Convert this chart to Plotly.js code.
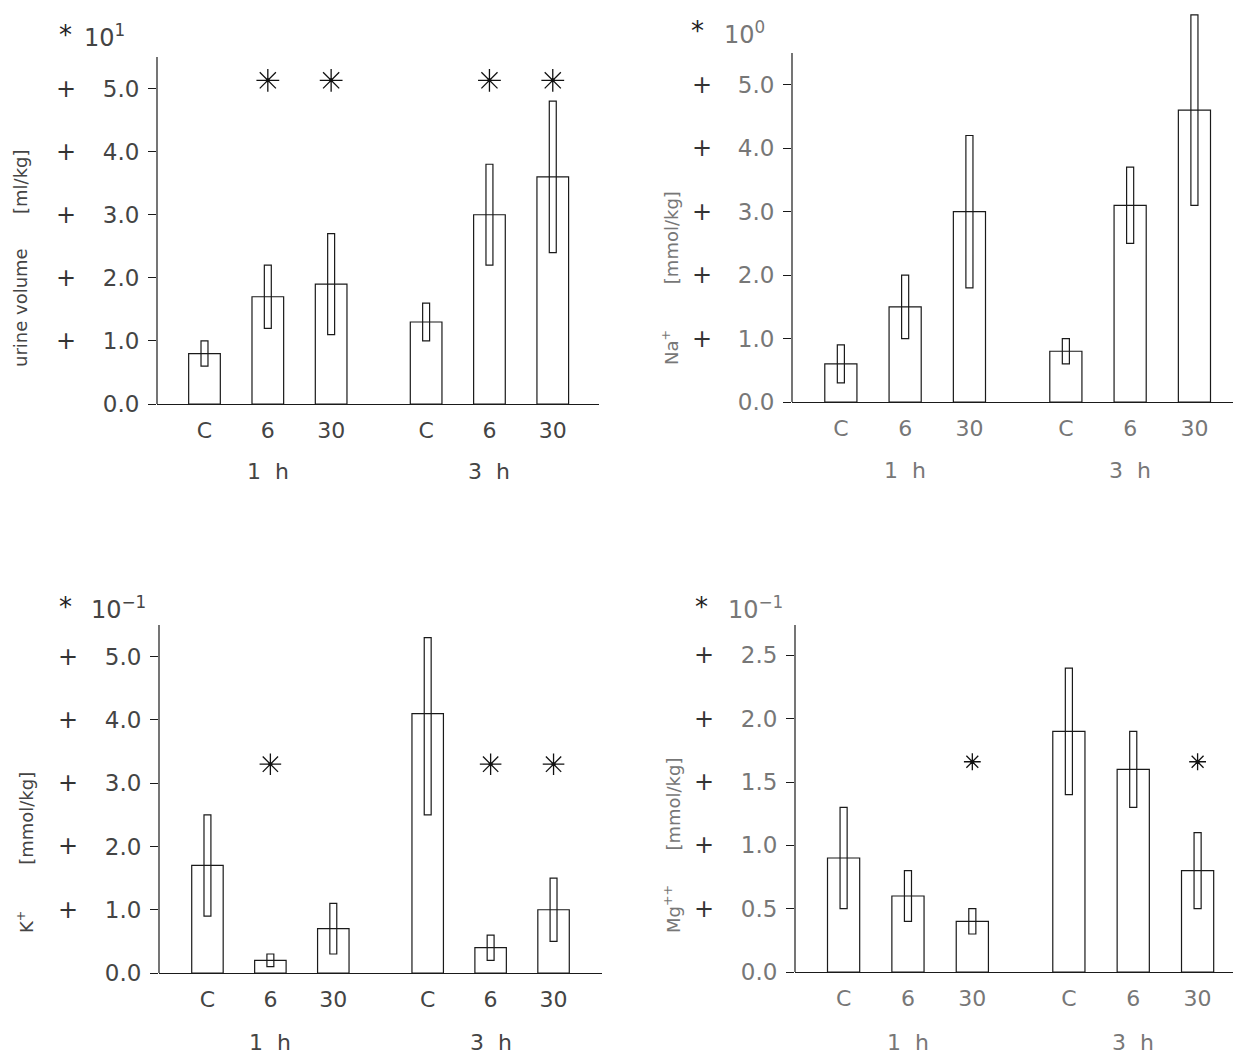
<!DOCTYPE html>
<html>
<head>
<meta charset="utf-8">
<script src="https://cdn.plot.ly/plotly-3.0.1.min.js"></script>
<style>
html,body{margin:0;padding:0;background:#fff;}
#chart{width:1233px;height:1054px;}
</style>
</head>
<body>
<div id="chart"></div>
<script>
// ---- data ----
const groups = ["1 h", "3 h"];
const doses = ["C", "6", "30"];

const urineMean = [0.8, 1.7, 1.9, 1.3, 3.0, 3.6];
const urineLo   = [0.6, 1.2, 1.1, 1.0, 2.2, 2.4];
const urineHi   = [1.0, 2.2, 2.7, 1.6, 3.8, 4.8];
const urineSig  = [false, true, true, false, true, true];

const naMean = [0.6, 1.5, 3.0, 0.8, 3.1, 4.6];
const naLo   = [0.3, 1.0, 1.8, 0.6, 2.5, 3.1];
const naHi   = [0.9, 2.0, 4.2, 1.0, 3.7, 6.1];
const naSig  = [false, false, false, false, false, false];

const kMean = [1.7, 0.2, 0.7, 4.1, 0.4, 1.0];
const kLo   = [0.9, 0.1, 0.3, 2.5, 0.2, 0.5];
const kHi   = [2.5, 0.3, 1.1, 5.3, 0.6, 1.5];
const kSig  = [false, true, false, false, true, true];

const mgMean = [0.9, 0.6, 0.4, 1.9, 1.6, 0.8];
const mgLo   = [0.5, 0.4, 0.3, 1.4, 1.3, 0.5];
const mgHi   = [1.3, 0.8, 0.5, 2.4, 1.9, 1.1];
const mgSig  = [false, false, true, false, false, true];

const tickUrine = [0, 1, 2, 3, 4, 5];
const tickNa = [0, 1, 2, 3, 4, 5];
const tickK = [0, 1, 2, 3, 4, 5];
const tickMg = [0, 0.5, 1.0, 1.5, 2.0, 2.5];

// ---- layout helpers ----
const W = 1233, H = 1054;
const px = v => v / W;
const py = v => 1 - v / H;

// category positions: groups separated by an extra half slot
const xPos = [];
const xText = [];
groups.forEach((g, gi) => doses.forEach((d, di) => { xPos.push(gi * 3.5 + di); xText.push(d); }));

const lineCol = '#1a1a1a';
const panels = [
  {mean: urineMean, lo: urineLo, hi: urineHi, sig: urineSig, starY: 5.13, starSize: 19,
   ticks: tickUrine, axisTop: 5.5, plotTop: 5.5, xr: [-0.75, 6.23],
   dom: {x0: 157, x1: 599, top: 57, bot: 404}, txt: '#444',
   plusX: 66, expStar: [65, 35], expTxt: [82, 36], exp: '10<sup>1</sup>',
   title: 'urine volume' + '\u00A0'.repeat(6) + '[ml/kg]', titleX: 21, titleY: 258,
   groupY: 472},
  {mean: naMean, lo: naLo, hi: naHi, sig: naSig, starY: 5.1, starSize: 18,
   ticks: tickNa, axisTop: 5.5, plotTop: 6.22, xr: [-0.76, 6.1],
   dom: {x0: 792, x1: 1233, top: 53, bot: 402}, txt: '#777',
   plusX: 702, expStar: [697, 31], expTxt: [722, 33], exp: '10<sup>0</sup>',
   title: 'Na<sup>+</sup>' + '\u00A0'.repeat(8) + '[mmol/kg]', titleX: 670, titleY: 278,
   groupY: 470},
  {mean: kMean, lo: kLo, hi: kHi, sig: kSig, starY: 3.3, starSize: 18,
   ticks: tickK, axisTop: 5.5, plotTop: 5.5, xr: [-0.77, 6.27],
   dom: {x0: 159, x1: 602, top: 625, bot: 973}, txt: '#444',
   plusX: 68, expStar: [65, 607], expTxt: [89, 608], exp: '10<sup>\u22121</sup>',
   title: 'K<sup>+</sup>' + '\u00A0'.repeat(8) + '[mmol/kg]', titleX: 25, titleY: 853,
   groupY: 1042},
  {mean: mgMean, lo: mgLo, hi: mgHi, sig: mgSig, starY: 1.66, starSize: 14,
   ticks: tickMg, axisTop: 2.74, plotTop: 2.74, xr: [-0.755, 6.05],
   dom: {x0: 795, x1: 1233, top: 625, bot: 972}, txt: '#777',
   plusX: 704, expStar: [701, 607], expTxt: [726, 608], exp: '10<sup>\u22121</sup>',
   title: 'Mg<sup>++</sup>' + '\u00A0'.repeat(6) + '[mmol/kg]', titleX: 672, titleY: 846,
   groupY: 1042}
];

const font = 'DejaVu Sans, Liberation Sans, sans-serif';
const traces = [];
const layout = {
  width: W, height: H,
  margin: {l: 0, r: 0, t: 0, b: 0},
  paper_bgcolor: '#fff', plot_bgcolor: 'rgba(0,0,0,0)',
  showlegend: false, barmode: 'overlay',
  font: {family: font, color: '#444'},
  annotations: [], shapes: []
};

panels.forEach((p, i) => {
  const n = i === 0 ? '' : String(i + 1);
  const xa = 'x' + n, ya = 'y' + n;
  // pixel scale of the y axis, so the plot area may reach above the drawn axis line
  const pxPerUnit = (p.dom.bot - p.dom.top) / p.axisTop;
  const topPx = p.dom.bot - p.plotTop * pxPerUnit;
  // main bars
  traces.push({
    type: 'bar', x: xPos, y: p.mean, width: 0.5, xaxis: xa, yaxis: ya,
    marker: {color: 'rgba(255,255,255,0)', line: {color: lineCol, width: 1.2}},
    hoverinfo: 'skip'
  });
  // SD rectangles
  traces.push({
    type: 'bar', x: xPos, base: p.lo, y: p.hi.map((h, k) => h - p.lo[k]), width: 0.11,
    xaxis: xa, yaxis: ya,
    marker: {color: 'rgba(255,255,255,0)', line: {color: lineCol, width: 1.2}},
    hoverinfo: 'skip'
  });
  // significance stars
  const sx = xPos.filter((_, k) => p.sig[k]);
  if (sx.length) {
    traces.push({
      type: 'scatter', mode: 'markers', x: sx, y: sx.map(() => p.starY),
      xaxis: xa, yaxis: ya,
      marker: {symbol: 'asterisk-open', size: p.starSize, color: '#111', line: {color: '#111', width: 1.3}},
      hoverinfo: 'skip'
    });
    traces.push({
      type: 'scatter', mode: 'markers', x: sx, y: sx.map(() => p.starY),
      xaxis: xa, yaxis: ya,
      marker: {symbol: 'circle', size: 4, color: '#111'},
      hoverinfo: 'skip'
    });
  }
  layout['xaxis' + n] = {
    domain: [px(p.dom.x0), px(p.dom.x1)], range: p.xr, anchor: ya,
    showline: true, linecolor: lineCol, linewidth: 1.2, mirror: false,
    ticks: '', tickvals: xPos, ticktext: xText, ticklabelstandoff: 6,
    tickfont: {family: font, size: 22, color: p.txt},
    showgrid: false, zeroline: false, fixedrange: true
  };
  layout['yaxis' + n] = {
    domain: [py(p.dom.bot), py(topPx)], range: [0, p.plotTop], anchor: xa,
    showline: false,
    ticks: 'outside', ticklen: 8, tickcolor: lineCol, tickwidth: 1,
    tickvals: p.ticks, tickformat: '.1f', ticklabelstandoff: 4,
    tickfont: {family: font, size: 23, color: p.txt},
    showgrid: false, zeroline: false, fixedrange: true
  };
  // the y axis line, drawn up to the axis top
  layout.shapes.push({
    type: 'line', xref: xa + ' domain', yref: ya, x0: 0, x1: 0, y0: 0, y1: p.axisTop,
    line: {color: lineCol, width: 1.2}
  });
  // "+" markers next to tick labels
  p.ticks.slice(1).forEach(t => {
    layout.annotations.push({
      xref: 'paper', yref: ya, x: px(p.plusX), y: t, text: '+', showarrow: false,
      font: {family: font, size: 24, color: '#333'}, xanchor: 'center', yanchor: 'middle'
    });
  });
  // exponent labels
  layout.annotations.push({
    xref: 'paper', yref: 'paper', x: px(p.expStar[0]), y: py(p.expStar[1]), text: '*',
    showarrow: false, font: {family: font, size: 26, color: '#222'}, xanchor: 'center', yanchor: 'middle'
  });
  layout.annotations.push({
    xref: 'paper', yref: 'paper', x: px(p.expTxt[0]), y: py(p.expTxt[1]), text: p.exp,
    showarrow: false, font: {family: font, size: 24, color: p.txt}, xanchor: 'left', yanchor: 'middle'
  });
  // y-axis title
  layout.annotations.push({
    xref: 'paper', yref: 'paper', x: px(p.titleX), y: py(p.titleY), text: p.title,
    textangle: -90, showarrow: false, font: {family: font, size: 18, color: p.txt},
    xanchor: 'center', yanchor: 'middle'
  });
  // group labels
  groups.forEach((g, gi) => {
    layout.annotations.push({
      xref: xa, yref: 'paper', x: gi * 3.5 + 1, y: py(p.groupY),
      text: g.replace(' ', '\u00A0\u00A0'), showarrow: false,
      font: {family: font, size: 22, color: p.txt}, xanchor: 'center', yanchor: 'middle'
    });
  });
});

Plotly.newPlot('chart', traces, layout, {staticPlot: true, displayModeBar: false});
</script>
</body>
</html>
